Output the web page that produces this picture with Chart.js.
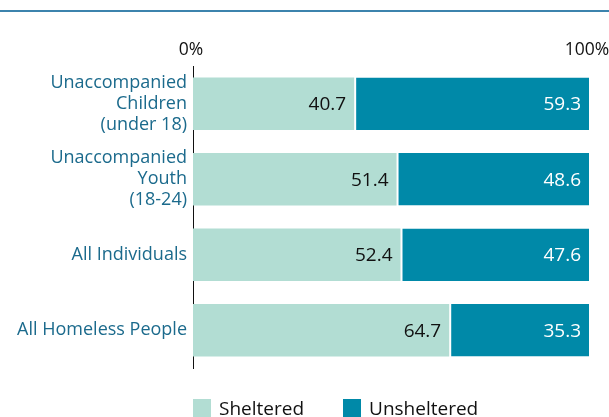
<!DOCTYPE html>
<html>
<head>
<meta charset="utf-8">
<script src="https://cdn.jsdelivr.net/npm/chart.js@4"></script>
<style>
  body { margin: 0; background: #fff; }
  #wrap { position: relative; width: 609px; height: 417px; }
  #topRule { position: absolute; left: 0; top: 10px; width: 609px; height: 2px; background: #3c83ad; }
  #legend { position: absolute; top: 397px; display: flex; font-family: "Open Sans", sans-serif; font-size: 19px; line-height: 22px; color: #111; }
  #legend .item { display: flex; align-items: center; margin-right: 39px; }
  #legend .box { width: 18px; height: 18px; margin-right: 8px; }
</style>
</head>
<body>
<div id="wrap">
  <div id="topRule"></div>
  <canvas id="chart"></canvas>
  <div id="legend"></div>
</div>
<script>
const categories = [
    ["Unaccompanied", "Children", "(under 18)"],
    ["Unaccompanied", "Youth", "(18-24)"],
    "All Individuals",
    "All Homeless People"
];
const sheltered = [40.7, 51.4, 52.4, 64.7];
const unsheltered = [59.3, 48.6, 47.6, 35.3];
const xTicks = [0, 100];

const fontFamily = "'Open Sans', sans-serif";

// numbers written inside the right end of each segment
const valueLabels = {
    id: "valueLabels",
    afterDatasetsDraw(chart) {
        const ctx = chart.ctx;
        ctx.save();
        ctx.font = "19px " + fontFamily;
        ctx.textAlign = "right";
        ctx.textBaseline = "middle";
        chart.data.datasets.forEach((ds, i) => {
            chart.getDatasetMeta(i).data.forEach((bar, j) => {
                ctx.fillStyle = i === 0 ? "#111" : "#fff";
                ctx.fillText(ds.data[j].toFixed(1), bar.x - 8, bar.y + 1);
            });
        });
        ctx.restore();
    }
};

const chart = new Chart(document.getElementById("chart"), {
    type: "bar",
    data: {
        labels: categories,
        datasets: [{
            label: "Sheltered",
            data: sheltered,
            backgroundColor: "#b2ddd3",
            borderWidth: 0,
        }, {
            label: "Unsheltered",
            data: unsheltered,
            backgroundColor: "#0089a8",
            borderColor: "#fff",
            borderWidth: { left: 2, right: 0, top: 0, bottom: 0 },
            borderSkipped: false,
        }]
    },
    plugins: [valueLabels],
    options: {
        indexAxis: "y",
        responsive: true,
        maintainAspectRatio: false,
        animation: false,
        layout: { padding: { top: 0, right: 20, bottom: 49, left: 0 } },
        datasets: {
            bar: { categoryPercentage: 1, barPercentage: 0.696 }
        },
        scales: {
            x: {
                position: "top",
                stacked: true,
                min: 0,
                max: 100,
                grid: { display: false, drawTicks: false },
                border: { display: false },
                afterBuildTicks: (scale) => { scale.ticks = xTicks.map(v => ({ value: v })); },
                afterFit: (scale) => {
                    scale.height = 66;
                    scale.paddingLeft = 0;
                    scale.paddingRight = 0;
                },
                ticks: {
                    padding: 5,
                    maxRotation: 0,
                    labelOffset: -2,
                    callback: (v) => v + "%",
                    font: { family: fontFamily, size: 17.5 },
                    color: "#111",
                },
            },
            y: {
                stacked: true,
                grid: { display: false, drawTicks: false },
                border: { display: true, color: "#111", width: 1 },
                afterFit: (scale) => { scale.width = 193; },
                ticks: {
                    padding: 6,
                    font: { family: fontFamily, size: 18, lineHeight: 1.17 },
                    color: "#1b6a8c",
                },
            },
        },
        plugins: {
            legend: { display: false },
            tooltip: { enabled: false },
        }
    }
});

// legend below the plot, starting at the axis line
const legendEl = document.getElementById("legend");
legendEl.style.left = chart.chartArea.left + "px";
chart.data.datasets.forEach(ds => {
    const item = document.createElement("div");
    item.className = "item";
    item.innerHTML = '<span class="box" style="background:' + ds.backgroundColor + '"></span>' + ds.label;
    legendEl.appendChild(item);
});
</script>
</body>
</html>
